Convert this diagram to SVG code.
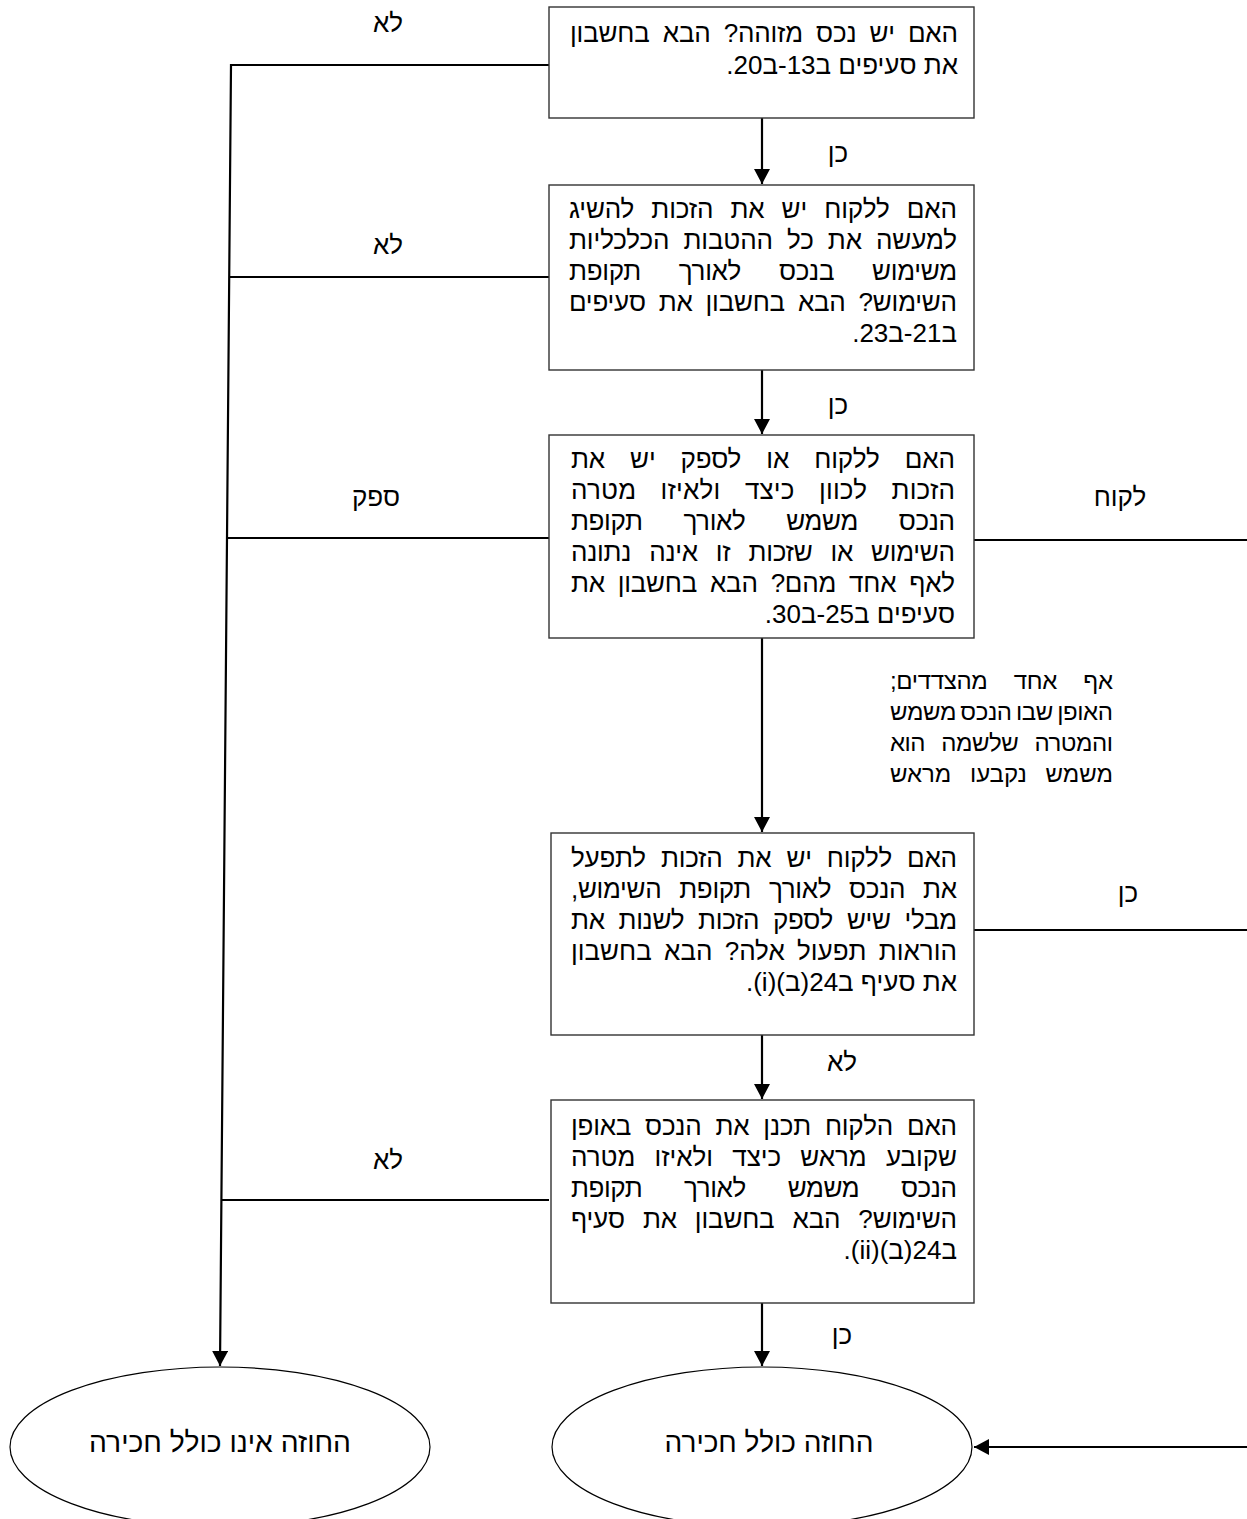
<svg xmlns="http://www.w3.org/2000/svg" width="1247" height="1519" viewBox="0 0 1247 1519">
<style>
.box{fill:#fff;stroke:#333;stroke-width:1.4}
.ell{fill:#fff;stroke:#000;stroke-width:1.2}
.t{font-family:"Liberation Sans","DejaVu Sans",sans-serif;font-size:26px;fill:#000;direction:rtl}
.m{font-family:"Liberation Sans","DejaVu Sans",sans-serif;font-size:24px;fill:#000;direction:rtl}
.lbl{font-family:"Liberation Sans","DejaVu Sans",sans-serif;font-size:26px;fill:#000;text-anchor:middle}
.et{font-family:"Liberation Sans","DejaVu Sans",sans-serif;font-size:28px;fill:#000;text-anchor:middle}
.c{fill:none;stroke:#000;stroke-width:2.2}
</style>
<defs>
<marker id="ah" markerWidth="16" markerHeight="16" refX="15" refY="8" orient="auto" markerUnits="userSpaceOnUse"><path d="M0,0 L15,8 L0,16 z" fill="#000"/></marker>
</defs>
<g id="connectors">
<path class="c" d="M549,65 H231 L220,1366" marker-end="url(#ah)"/>
<path class="c" d="M549,277 H229"/>
<path class="c" d="M549,538 H227"/>
<path class="c" d="M549,1200 H222"/>
<path class="c" d="M974,540 H1247"/>
<path class="c" d="M974,930 H1247"/>
<path class="c" d="M1247,1447 H974" marker-end="url(#ah)"/>
<path class="c" d="M762,118 V184" marker-end="url(#ah)"/>
<path class="c" d="M762,370 V434" marker-end="url(#ah)"/>
<path class="c" d="M762,638 V832" marker-end="url(#ah)"/>
<path class="c" d="M762,1035 V1099" marker-end="url(#ah)"/>
<path class="c" d="M762,1303 V1366" marker-end="url(#ah)"/>
</g>
<g id="labels">
<text class="lbl" x="388" y="32">לא</text>
<text class="lbl" x="838" y="162">כן</text>
<text class="lbl" x="388" y="254">לא</text>
<text class="lbl" x="838" y="414">כן</text>
<text class="lbl" x="376" y="506">ספק</text>
<text class="lbl" x="1120" y="506">לקוח</text>
<text class="lbl" x="1128" y="902">כן</text>
<text class="lbl" x="842" y="1071">לא</text>
<text class="lbl" x="388" y="1169">לא</text>
<text class="lbl" x="842" y="1344">כן</text>
</g>
<g id="midlabel">
<text class="m" x="1113" y="689" style="word-spacing:20px" textLength="223" lengthAdjust="spacing">אף אחד מהצדדים;</text>
<text class="m" x="1113" y="720" style="word-spacing:-2px" textLength="223" lengthAdjust="spacing">האופן שבו הנכס משמש</text>
<text class="m" x="1113" y="751" style="word-spacing:10px" textLength="223" lengthAdjust="spacing">והמטרה שלשמה הוא</text>
<text class="m" x="1113" y="782" style="word-spacing:12px" textLength="223" lengthAdjust="spacing">משמש נקבעו מראש</text>
</g>
<g id="box1">
<rect class="box" x="549" y="7" width="425" height="111"/>
<text class="t" x="958" y="42" style="word-spacing:6px" textLength="388" lengthAdjust="spacing">האם יש נכס מזוהה? הבא בחשבון</text>
<text class="t" x="958" y="74">את סעיפים ב13-ב20.</text>
</g>
<g id="box2">
<rect class="box" x="549" y="185" width="425" height="185"/>
<text class="t" x="957" y="218" style="word-spacing:10px" textLength="388" lengthAdjust="spacing">האם ללקוח יש את הזכות להשיג</text>
<text class="t" x="957" y="249" style="word-spacing:7px" textLength="388" lengthAdjust="spacing">למעשה את כל ההטבות הכלכליות</text>
<text class="t" x="957" y="280" style="word-spacing:31px" textLength="388" lengthAdjust="spacing">משימוש בנכס לאורך תקופת</text>
<text class="t" x="957" y="311" style="word-spacing:6px" textLength="388" lengthAdjust="spacing">השימוש? הבא בחשבון את סעיפים</text>
<text class="t" x="957" y="342">ב21-ב23.</text>
</g>
<g id="box3">
<rect class="box" x="549" y="435" width="425" height="203"/>
<text class="t" x="955" y="468" style="word-spacing:18px" textLength="384" lengthAdjust="spacing">האם ללקוח או לספק יש את</text>
<text class="t" x="955" y="499" style="word-spacing:17px" textLength="384" lengthAdjust="spacing">הזכות לכוון כיצד ולאיזו מטרה</text>
<text class="t" x="955" y="530" style="word-spacing:34px" textLength="384" lengthAdjust="spacing">הנכס משמש לאורך תקופת</text>
<text class="t" x="955" y="561" style="word-spacing:11px" textLength="384" lengthAdjust="spacing">השימוש או שזכות זו אינה נתונה</text>
<text class="t" x="955" y="592" style="word-spacing:6px" textLength="384" lengthAdjust="spacing">לאף אחד מהם? הבא בחשבון את</text>
<text class="t" x="955" y="623">סעיפים ב25-ב30.</text>
</g>
<g id="box4">
<rect class="box" x="551" y="833" width="423" height="202"/>
<text class="t" x="957" y="867" style="word-spacing:8px" textLength="386" lengthAdjust="spacing">האם ללקוח יש את הזכות לתפעל</text>
<text class="t" x="957" y="898" style="word-spacing:11px" textLength="386" lengthAdjust="spacing">את הנכס לאורך תקופת השימוש,</text>
<text class="t" x="957" y="929" style="word-spacing:7px" textLength="386" lengthAdjust="spacing">מבלי שיש לספק הזכות לשנות את</text>
<text class="t" x="957" y="960" style="word-spacing:5px" textLength="386" lengthAdjust="spacing">הוראות תפעול אלה? הבא בחשבון</text>
<text class="t" x="957" y="991">את סעיף ב24(ב)(i).</text>
</g>
<g id="box5">
<rect class="box" x="551" y="1100" width="423" height="203"/>
<text class="t" x="957" y="1135" style="word-spacing:7px" textLength="386" lengthAdjust="spacing">האם הלקוח תכנן את הנכס באופן</text>
<text class="t" x="957" y="1166" style="word-spacing:12px" textLength="386" lengthAdjust="spacing">שקובע מראש כיצד ולאיזו מטרה</text>
<text class="t" x="957" y="1197" style="word-spacing:35px" textLength="386" lengthAdjust="spacing">הנכס משמש לאורך תקופת</text>
<text class="t" x="957" y="1228" style="word-spacing:11px" textLength="386" lengthAdjust="spacing">השימוש? הבא בחשבון את סעיף</text>
<text class="t" x="957" y="1259">ב24(ב)(ii).</text>
</g>
<g id="end-no">
<ellipse class="ell" cx="220" cy="1447" rx="210" ry="80"/>
<text class="et" x="220" y="1452" textLength="262" lengthAdjust="spacingAndGlyphs">החוזה אינו כולל חכירה</text>
</g>
<g id="end-yes">
<ellipse class="ell" cx="762" cy="1447" rx="210" ry="80"/>
<text class="et" x="769" y="1452" textLength="209" lengthAdjust="spacingAndGlyphs">החוזה כולל חכירה</text>
</g>
</svg>
